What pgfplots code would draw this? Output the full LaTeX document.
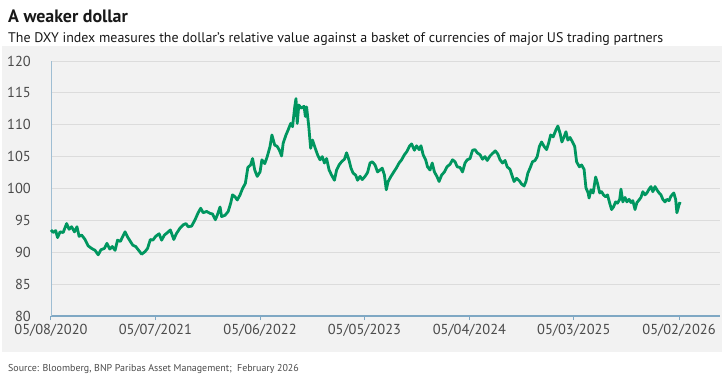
\documentclass[border=0pt]{standalone}
\usepackage{fontspec}
\setmainfont{PT Sans}
\usepackage{pgfplots}
\usepackage{pgfplotstable}
\usetikzlibrary{calc}
\pgfplotsset{compat=1.18}
\pgfdeclarelayer{bg}
\pgfsetlayers{bg,main}
\definecolor{panel}{HTML}{F2F2F2}
\definecolor{gridc}{HTML}{DCDCDC}
\definecolor{axc}{HTML}{7FA8C4}
\definecolor{linec}{HTML}{00965F}
\definecolor{tickc}{HTML}{4A4A4A}
\pgfplotstableread{
d v
0 93.5
7 93.1
15 93.4
21 92.3
29 93.2
39 93.1
50 94.5
58 93.6
66 94.0
75 93.2
83 94.0
90 92.5
98 92.7
109 92.0
119 91.0
130 90.6
141 90.3
151 89.6
160 90.4
171 90.6
179 91.4
188 90.5
196 90.9
205 90.3
213 91.9
222 91.7
228 92.3
237 93.2
245 92.4
254 91.7
262 91.1
271 90.9
279 90.4
290 89.7
301 90.1
309 90.6
318 92.0
326 91.9
335 92.5
346 92.9
354 91.9
363 92.7
373 93.1
382 93.5
393 92.0
401 92.9
413 93.8
423 94.3
432 94.5
439 94.0
450 94.1
461 95.1
471 96.2
479 96.9
487 96.2
498 96.4
509 96.1
517 96.0
526 95.1
532 95.8
541 97.1
546 95.6
557 95.8
567 96.4
575 97.7
581 99.0
589 98.7
596 98.2
605 99.0
613 100.0
622 100.8
630 103.3
639 103.7
645 104.7
652 102.9
660 101.9
669 102.6
675 104.5
684 103.9
692 105.0
701 106.6
707 108.4
716 106.8
724 106.6
731 106.0
738 105.1
743 107.1
752 108.4
759 109.2
767 110.2
773 109.7
780 112.8
784 114.1
788 110.2
793 113.1
801 112.6
810 112.9
814 111.3
818 112.8
825 109.7
831 106.3
837 107.6
845 106.4
853 105.3
861 104.5
868 105.0
875 104.0
882 104.7
890 102.9
898 102.1
907 101.3
914 102.9
922 103.7
930 104.2
939 104.6
946 105.6
954 104.4
960 103.2
967 102.4
975 102.1
981 101.3
989 101.9
996 101.4
1005 101.9
1013 102.5
1021 104.0
1028 104.2
1037 103.7
1045 102.6
1053 102.9
1060 103.2
1067 102.1
1073 99.8
1079 101.1
1088 101.9
1097 102.6
1105 103.2
1114 104.0
1122 104.5
1131 105.3
1139 105.8
1148 106.7
1154 107.0
1163 106.0
1170 106.7
1178 106.1
1184 106.7
1191 105.3
1199 104.5
1205 103.4
1213 102.9
1220 104.0
1227 102.6
1235 101.9
1242 101.1
1250 102.1
1259 102.6
1267 103.4
1277 103.8
1285 104.5
1293 104.2
1300 103.4
1309 103.3
1317 102.6
1325 104.0
1332 104.5
1341 104.7
1349 106.0
1357 106.1
1364 105.6
1373 105.3
1381 104.6
1389 105.0
1396 104.4
1405 105.1
1413 105.5
1422 105.9
1430 105.4
1437 104.5
1445 104.0
1453 104.4
1460 103.4
1469 103.0
1475 102.1
1482 101.1
1490 101.6
1499 101.2
1506 100.7
1514 100.4
1520 101.1
1526 102.4
1533 103.2
1541 104.2
1549 104.4
1556 105.0
1563 106.6
1570 107.3
1578 106.6
1586 106.1
1593 107.2
1599 108.4
1607 108.1
1616 109.2
1622 109.8
1629 108.7
1635 107.3
1642 108.1
1648 108.9
1654 107.6
1661 108.0
1669 107.3
1676 106.6
1682 104.2
1691 103.4
1698 103.7
1706 103.0
1712 100.1
1719 99.3
1722 98.5
1728 99.8
1735 99.3
1743 101.8
1749 100.8
1756 99.3
1762 99.5
1768 99.0
1775 98.7
1781 99.0
1788 97.7
1794 96.7
1800 97.1
1807 97.9
1813 97.7
1820 98.3
1824 99.9
1830 97.9
1837 98.6
1843 97.9
1850 98.3
1856 97.8
1862 98.1
1869 96.7
1875 97.8
1882 98.2
1888 98.6
1894 99.5
1901 99.0
1907 99.3
1914 99.9
1920 100.3
1926 99.5
1933 100.3
1939 99.8
1946 99.3
1952 99.0
1958 98.3
1965 97.9
1971 98.3
1978 98.1
1984 98.8
1993 99.3
1999 98.3
2003 96.2
2007 96.9
2011 97.7
2016 97.6
}\dxy
\begin{document}
\begin{tikzpicture}
\begin{axis}[
  scale only axis, width=669bp, height=255bp,
  xmin=0, xmax=2141, ymin=80, ymax=120,
  ytick={80,85,...,120},
  xtick={0,334,669,1003,1339,1673,2010},
  xticklabels={05/08/2020,05/07/2021,05/06/2022,05/05/2023,05/04/2024,05/03/2025,05/02/2026},
  axis x line*=bottom, axis y line*=left,
  x axis line style={draw=axc, line width=1.2bp},
  y axis line style={draw=axc!75, line width=0.9bp},
  ymajorgrids, grid style={draw=gridc, line width=1bp},
  tick align=outside, major tick length=4bp,
  xtick style={draw=axc, line width=1bp},
  ytick style={draw=none},
  /pgf/number format/assume math mode=true,
  ticklabel style={font=\fontsize{14.5}{16}\selectfont, text=tickc},
  yticklabel style={inner xsep=0pt, xshift=-16bp},
  xticklabel style={inner ysep=0pt, yshift=-4bp},
  clip=false,
]
\addplot[draw=linec, line width=2.8bp, line join=round] table[x=d, y=v] {\dxy};
\coordinate (O) at (rel axis cs:0,0);
\end{axis}
\begin{scope}[shift={($(O)+(-51bp,-59bp)$)}, x=1bp, y=1bp]
\pgfresetboundingbox
\useasboundingbox (0,0) rectangle (725,375);
\begin{pgfonlayer}{bg}
\fill[white] (0,0) rectangle (725,375);
\fill[panel] (2,23) rectangle (722,329);
\end{pgfonlayer}
\node[anchor=base west, inner sep=0pt, font=\bfseries\fontsize{18}{20}\selectfont, text=black!90] at (8,353) {A weaker dollar};
\node[anchor=base west, inner sep=0pt, font=\fontsize{14}{16}\selectfont, text=black!90] at (8,333) {The DXY index measures the dollar's relative value against a basket of currencies of major US trading partners};
\node[anchor=base west, inner sep=0pt, font=\fontsize{10}{12}\selectfont, text=black!70] at (8,4) {Source: Bloomberg, BNP Paribas Asset Management;\ \ February 2026};
\end{scope}
\end{tikzpicture}
\end{document}
